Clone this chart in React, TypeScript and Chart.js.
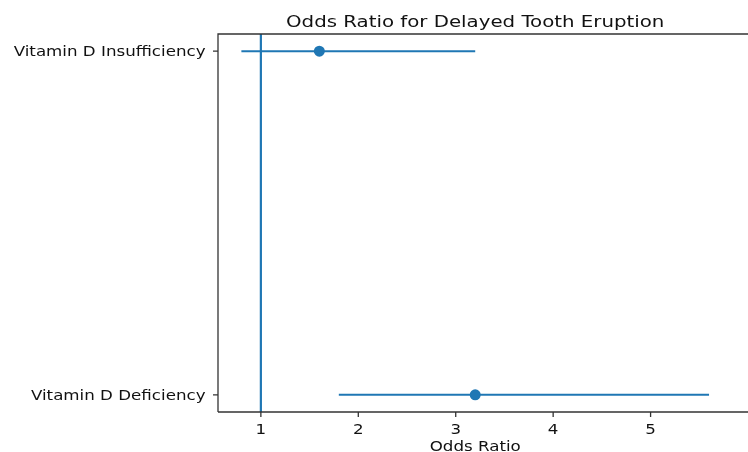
import React, { useEffect, useRef } from "react";
import { Chart, registerables } from "chart.js";

Chart.register(...registerables);

const categories = ["Vitamin D Deficiency", "Vitamin D Insufficiency"];
const oddsRatios = [3.2, 1.6];
const ciLower = [1.8, 0.8];
const ciUpper = [5.6, 3.2];
const xTicks = [1, 2, 3, 4, 5];
const referenceValue = 1;
const titleText = "Odds Ratio for Delayed Tooth Eruption";
const xLabelText = "Odds Ratio";

const BLUE = "#1f77b4";
const FONT = "'DejaVu Sans', sans-serif";
const SX = 1.235;
const CANVAS_W = 760;

export default function App() {
  const ref = useRef<HTMLCanvasElement | null>(null);

  useEffect(() => {
    if (!ref.current) return;
    const ciDatasets = categories.map((c, i) => ({
      label: c + " CI",
      data: [
        { x: ciLower[i], y: i },
        { x: ciUpper[i], y: i },
      ],
      showLine: true,
      borderColor: BLUE,
      borderWidth: 2,
      pointRadius: 0,
      order: 2,
    }));
    const pointDataset = {
      label: "Odds Ratio",
      data: categories.map((_, i) => ({ x: oddsRatios[i], y: i })),
      showLine: false,
      backgroundColor: BLUE,
      borderColor: BLUE,
      pointRadius: 5.5,
      borderWidth: 0,
      order: 1,
    };

    const txt = (ctx: any, s: string, x: number, y: number, align: string, size: number) => {
      ctx.save();
      ctx.translate(x, y);
      ctx.scale(SX, 1);
      ctx.font = size + "px " + FONT;
      ctx.textAlign = align;
      ctx.textBaseline = "alphabetic";
      ctx.fillText(s, 0, 0);
      ctx.restore();
    };

    const decor = {
      id: "decor",
      beforeDatasetsDraw(chart: any) {
        const { ctx, chartArea, scales } = chart;
        const x = scales.x.getPixelForValue(referenceValue);
        ctx.save();
        ctx.strokeStyle = BLUE;
        ctx.lineWidth = 2.2;
        ctx.beginPath();
        ctx.moveTo(x, chartArea.top);
        ctx.lineTo(x, chartArea.bottom);
        ctx.stroke();
        ctx.restore();
      },
      afterDraw(chart: any) {
        const { ctx, chartArea, scales } = chart;
        const { left, right, top, bottom } = chartArea;
        ctx.save();
        ctx.strokeStyle = "#333";
        ctx.lineWidth = 1.3;
        ctx.beginPath();
        ctx.moveTo(left, bottom);
        ctx.lineTo(left, top);
        ctx.lineTo(right, top);
        ctx.moveTo(left, bottom);
        ctx.lineTo(right, bottom);
        xTicks.forEach((v) => {
          const px = scales.x.getPixelForValue(v);
          ctx.moveTo(px, bottom);
          ctx.lineTo(px, bottom + 5);
        });
        categories.forEach((_, i) => {
          const py = scales.y.getPixelForValue(i);
          ctx.moveTo(left, py);
          ctx.lineTo(left - 5, py);
        });
        ctx.stroke();
        ctx.fillStyle = "#111";
        const cx = scales.x.getPixelForValue(3.2);
        txt(ctx, titleText, cx, 26.5, "center", 16);
        txt(ctx, xLabelText, cx, 450.5, "center", 13.5);
        xTicks.forEach((v) => {
          txt(ctx, String(v), scales.x.getPixelForValue(v), 433.5, "center", 13.5);
        });
        categories.forEach((c, i) => {
          txt(ctx, c, left - 12.5, scales.y.getPixelForValue(i) + 5, "right", 13.5);
        });
        ctx.restore();
      },
    };

    const chart = new Chart(ref.current, {
      type: "scatter",
      data: { datasets: [...ciDatasets, pointDataset] as any },
      options: {
        animation: false,
        responsive: false,
        maintainAspectRatio: false,
        layout: { autoPadding: false, padding: { top: 34, right: 0, left: 0, bottom: 0 } },
        plugins: { legend: { display: false }, tooltip: { enabled: false }, title: { display: false } },
        scales: {
          x: {
            type: "linear",
            min: 0.56,
            max: 6.123,
            afterBuildTicks: (axis: any) => {
              axis.ticks = xTicks.map((v) => ({ value: v }));
            },
            afterFit: (axis: any) => {
              axis.height = 40;
            },
            grid: { display: false },
            border: { display: false },
            ticks: { display: false },
          },
          y: {
            type: "linear",
            min: -0.05,
            max: 1.05,
            afterBuildTicks: (axis: any) => {
              axis.ticks = categories.map((_, i) => ({ value: i }));
            },
            afterFit: (axis: any) => {
              axis.width = 218;
            },
            grid: { display: false },
            border: { display: false },
            ticks: { display: false },
          },
        },
      },
      plugins: [decor],
    });
    return () => chart.destroy();
  }, []);

  return (
    <div style={{ position: "fixed", left: 0, top: 0, width: 748, height: 452, overflow: "hidden", background: "#fff" }}>
      <canvas ref={ref} width={CANVAS_W} height={452} style={{ width: CANVAS_W, height: 452, display: "block" }} />
    </div>
  );
}
